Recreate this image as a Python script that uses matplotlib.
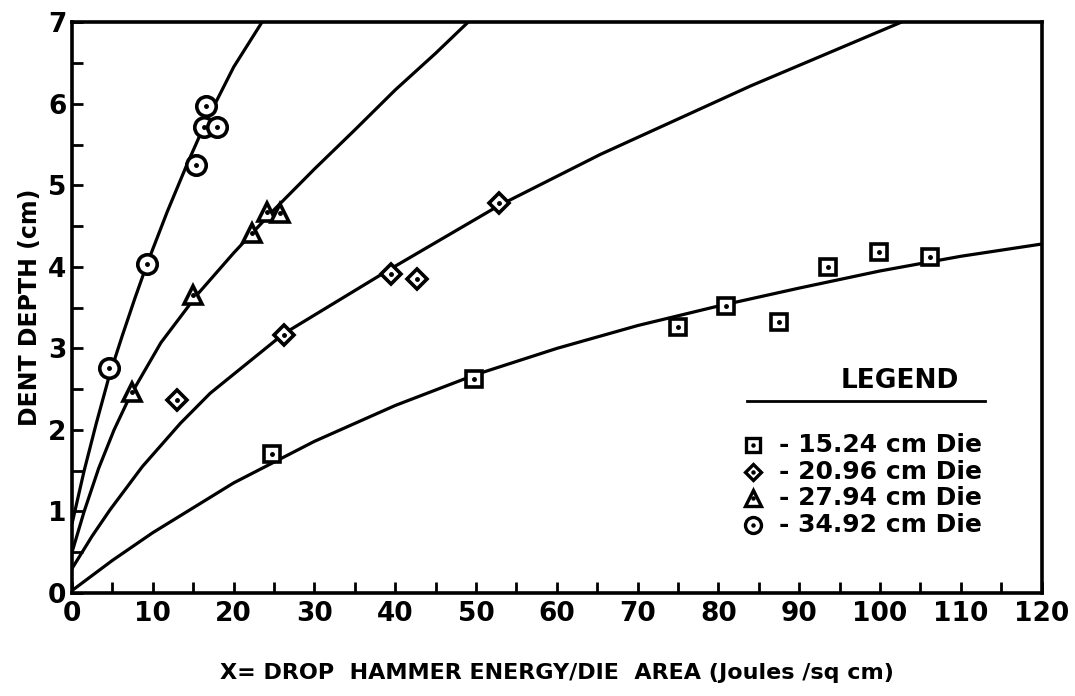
import numpy as np
import matplotlib
matplotlib.use('Agg')
import matplotlib.pyplot as plt
from matplotlib.ticker import MultipleLocator

plt.rcParams['font.family'] = ['DejaVu Sans']
plt.rcParams['font.weight'] = 'bold'
plt.rcParams['axes.labelweight'] = 'bold'

sq_x = [24.8, 49.7, 75.0, 80.9, 87.5, 93.6, 99.9, 106.2]
sq_y = [1.70, 2.62, 3.26, 3.52, 3.32, 4.00, 4.18, 4.12]
di_x = [13.0, 26.2, 39.5, 42.7, 52.8]
di_y = [2.37, 3.16, 3.91, 3.85, 4.78]
tr_x = [7.4, 15.0, 22.3, 24.1, 25.8]
tr_y = [2.46, 3.65, 4.41, 4.67, 4.66]
ci_x = [4.6, 9.3, 15.4, 16.3, 17.9, 16.6]
ci_y = [2.76, 4.04, 5.25, 5.72, 5.72, 5.97]

# fitted curves
sq_cx = [0, 5, 10, 20, 30, 40, 50, 60, 70, 80, 90, 100, 110, 120]
sq_cy = [0.03, 0.40, 0.74, 1.35, 1.86, 2.30, 2.68, 3.00, 3.28, 3.52, 3.74, 3.95, 4.13, 4.28]
di_cx = [0, 2.5, 4.7, 8.7, 13.4, 17.1, 26.2, 39.5, 52.8, 65.4, 84, 102.6]
di_cy = [0.30, 0.70, 1.02, 1.55, 2.08, 2.45, 3.18, 3.98, 4.75, 5.38, 6.22, 7.0]
tr_cx = [0, 1.5, 3.3, 5.2, 7.2, 11, 15.5, 20, 25, 30, 35, 40, 45, 49]
tr_cy = [0.50, 1.00, 1.53, 2.00, 2.42, 3.07, 3.66, 4.17, 4.70, 5.20, 5.68, 6.17, 6.62, 7.0]
ci_cx = [0, 1.5, 3, 4.6, 6.2, 7.8, 9.3, 11.8, 14.2, 16.3, 17.5, 20, 23.5]
ci_cy = [0.85, 1.50, 2.08, 2.66, 3.15, 3.62, 4.04, 4.68, 5.25, 5.72, 5.96, 6.45, 7.0]

labels = ['- 15.24 cm Die', '- 20.96 cm Die', '- 27.94 cm Die', '- 34.92 cm Die']

fig = plt.figure(figsize=(10.75, 6.96), dpi=100)
ax = fig.add_axes([0.067, 0.148, 0.902, 0.82])

lw = 2.3
for cx, cy in [(sq_cx, sq_cy), (di_cx, di_cy), (tr_cx, tr_cy), (ci_cx, ci_cy)]:
    ax.plot(cx, cy, color='black', lw=lw, solid_capstyle='round',
            solid_joinstyle='round', zorder=2)

series = [(sq_x, sq_y, 's', 12), (di_x, di_y, 'D', 10),
          (tr_x, tr_y, '^', 13), (ci_x, ci_y, 'o', 14)]
for xs, ys, m, ms in series:
    ax.plot(xs, ys, ls='none', marker=m, ms=ms, mfc='white', mec='black',
            mew=2.6, zorder=3)
    ax.plot(xs, ys, ls='none', marker='o', ms=2.5, color='black', zorder=4)

ax.set_xlim(0, 120)
ax.set_ylim(0, 7)
ax.xaxis.set_major_locator(MultipleLocator(10))
ax.xaxis.set_minor_locator(MultipleLocator(5))
ax.yaxis.set_major_locator(MultipleLocator(1))
ax.yaxis.set_minor_locator(MultipleLocator(0.5))
ax.tick_params(which='both', direction='in', length=8, width=2, labelsize=19)
ax.tick_params(axis='x', pad=6)
ax.tick_params(axis='y', pad=4)
for s in ax.spines.values():
    s.set_linewidth(2.6)

ax.set_xlabel('X= DROP  HAMMER ENERGY/DIE  AREA (Joules /sq cm)', fontsize=16,
              labelpad=26)
ax.set_ylabel('DENT DEPTH (cm)', fontsize=17, labelpad=4)

# legend block
ax.text(102.5, 2.6, 'LEGEND', fontsize=19, ha='center', va='center')
ax.plot([83.5, 113], [2.36, 2.36], color='black', lw=2, clip_on=False)
lx = 84.3
ly = [1.82, 1.48, 1.16, 0.84]
marks = [('s', 10.5), ('D', 8.5), ('^', 11.5), ('o', 11.5)]
for y, (m, ms), lab in zip(ly, marks, labels):
    ax.plot([lx], [y], ls='none', marker=m, ms=ms, mfc='white', mec='black', mew=2.4)
    ax.plot([lx], [y], ls='none', marker='o', ms=2.2, color='black')
    ax.text(lx + 3.2, y, lab, fontsize=18, ha='left', va='center')

fig.savefig('out.png', dpi=100)
